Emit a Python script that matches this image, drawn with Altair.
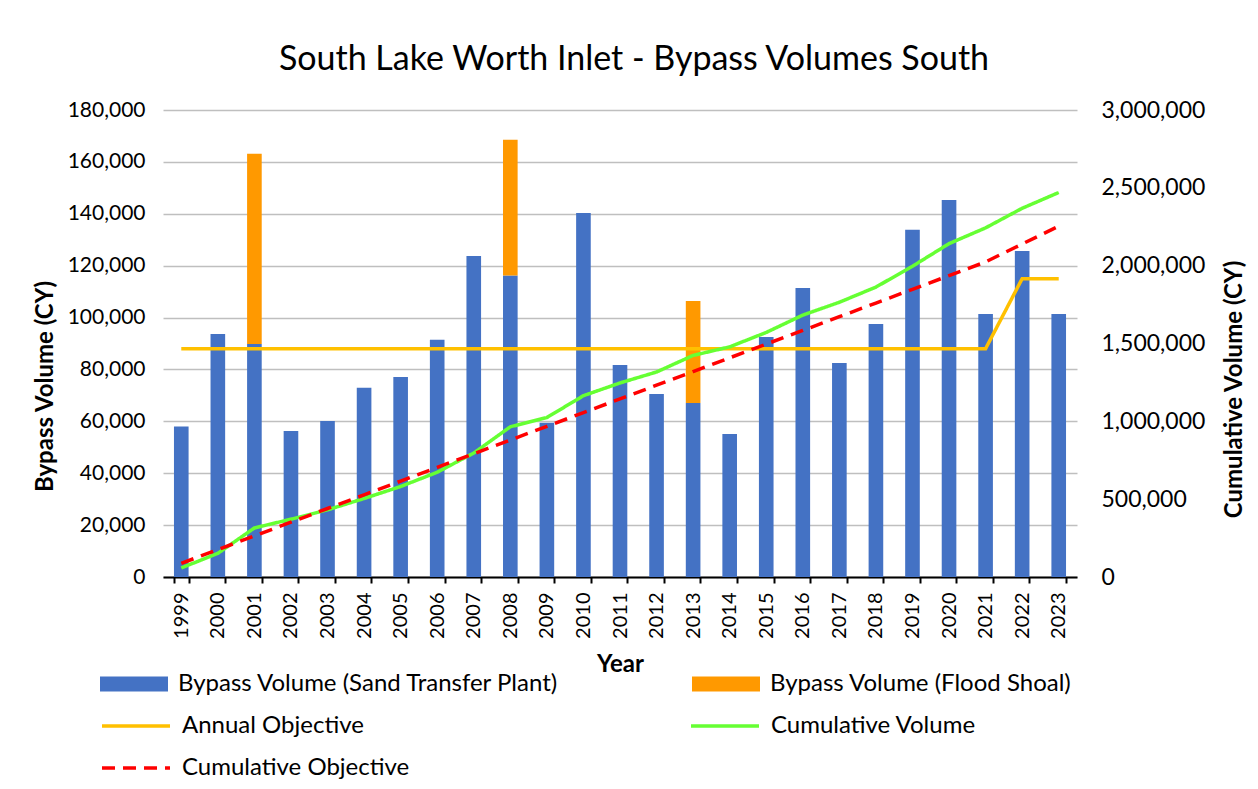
import altair as alt
import pandas as pd

FONT = "Lato"

years = ["1999", "2000", "2001", "2002", "2003", "2004", "2005", "2006", "2007",
         "2008", "2009", "2010", "2011", "2012", "2013", "2014", "2015", "2016",
         "2017", "2018", "2019", "2020", "2021", "2022", "2023"]

# Bypass Volume (Sand Transfer Plant), CY
stp = [58000, 93700, 89800, 56300, 60100, 72900, 77100, 91400, 123700, 116200,
       59500, 140300, 81700, 70500, 67100, 55100, 92500, 111400, 82500, 97500,
       133800, 145300, 101400, 125700, 101400]

# Bypass Volume (Flood Shoal), CY
flood = [0, 0, 73300, 0, 0, 0, 0, 0, 0, 52300,
         0, 0, 0, 0, 39300, 0, 0, 0, 0, 0,
         0, 0, 0, 0, 0]

# Annual Objective, CY
annual_obj = [88000, 88000, 88000, 88000, 88000, 88000, 88000, 88000, 88000, 88000,
              88000, 88000, 88000, 88000, 88000, 88000, 88000, 88000, 88000, 88000,
              88000, 88000, 88000, 115000, 115000]

# Cumulative Volume, CY
cum_vol = [58200, 151900, 315000, 371300, 431400, 504300, 581400, 672800, 796500,
           965000, 1024500, 1164800, 1246500, 1317000, 1423400, 1478500, 1571000,
           1682400, 1764900, 1862400, 1996200, 2141500, 2242900, 2368600, 2470000]

# Cumulative Objective, CY
cum_obj = [88000, 176000, 264000, 352000, 440000, 528000, 616000, 704000, 792000,
           880000, 968000, 1056000, 1144000, 1232000, 1320000, 1408000, 1496000,
           1584000, 1672000, 1760000, 1848000, 1936000, 2024000, 2139000, 2254000]

bar_names = ["Bypass Volume (Sand Transfer Plant)", "Bypass Volume (Flood Shoal)"]
bar_colors = ["#4472C4", "#FF9900"]
line_names = ["Annual Objective", "Cumulative Volume", "Cumulative Objective"]
line_colors = ["#FFC000", "#66FF33", "#FF0000"]
line_dashes = [[1, 0], [1, 0], [13, 8]]
# legend grid fills column by column: left column, then right column
line_legend_order = ["Annual Objective", "Cumulative Objective", "Cumulative Volume"]

left_ticks = [0, 20000, 40000, 60000, 80000, 100000, 120000, 140000, 160000, 180000]
right_ticks = [0, 500000, 1000000, 1500000, 2000000, 2500000, 3000000]

# ---- tables ----
bar_rows = []
for y, a, b in zip(years, stp, flood):
    bar_rows.append({"year": y, "component": bar_names[0], "value": a, "ord": 0})
    if b > 0:
        bar_rows.append({"year": y, "component": bar_names[1], "value": b, "ord": 1})
bar_df = pd.DataFrame(bar_rows)

annual_df = pd.DataFrame({"year": years, "series": line_names[0], "value": annual_obj})
cum_df = pd.concat([
    pd.DataFrame({"year": years, "series": line_names[1], "value": cum_vol}),
    pd.DataFrame({"year": years, "series": line_names[2], "value": cum_obj}),
])

TITLE_FONT = 24
LEG_FONT = 24
LINE_W = 3.5

x_enc = alt.X(
    "year:O",
    sort=years,
    scale=alt.Scale(paddingInner=0.6, paddingOuter=0.3),
    axis=alt.Axis(
        title="Year", titleFontSize=TITLE_FONT, titleFontWeight="bold", titlePadding=14,
        labelAngle=270, labelAlign="right", labelBaseline="middle",
        labelFontSize=20, labelPadding=9,
        tickBand="extent", ticks=True, tickColor="black", tickWidth=2, tickSize=6,
        domainColor="black", domainWidth=2, grid=False,
    ),
)

line_legend = alt.Legend(
    orient="none", legendX=-46, legendY=597, columns=2, columnPadding=274,
    rowPadding=11, symbolType="M-2,0L2,0", symbolSize=1156, symbolStrokeWidth=LINE_W,
    labelFontSize=LEG_FONT, labelOffset=27, labelLimit=600, title=None, padding=0,
    values=line_legend_order,
)

color_enc = alt.Color("series:N", scale=alt.Scale(domain=line_names, range=line_colors),
                      legend=line_legend)
dash_enc = alt.StrokeDash("series:N", scale=alt.Scale(domain=line_names, range=line_dashes),
                          legend=line_legend)

left_y_axis = alt.Axis(
    values=left_ticks, format=",d", title="Bypass Volume (CY)",
    titleFontSize=TITLE_FONT, titleFontWeight="bold", titlePadding=10, titleY=276,
    labelFontSize=21, labelPadding=18, domain=False, ticks=False,
    grid=True, gridColor="#BFBFBF", gridWidth=1.3,
)
left_scale = alt.Scale(domain=[0, 180000], nice=False)

bars = alt.Chart(bar_df).mark_bar().encode(
    x=x_enc,
    y=alt.Y("value:Q", stack="zero", scale=left_scale, axis=left_y_axis),
    fill=alt.Fill(
        "component:N",
        scale=alt.Scale(domain=bar_names, range=bar_colors),
        legend=alt.Legend(
            orient="none", legendX=-46, legendY=557, columns=2, columnPadding=132,
            rowPadding=11, symbolType="M-2,-0.44H2V0.44H-2Z", symbolSize=1156,
            symbolStrokeWidth=0, labelFontSize=LEG_FONT, labelOffset=27, labelLimit=600,
            title=None, padding=0,
        ),
    ),
    order=alt.Order("ord:Q"),
)

annual = alt.Chart(annual_df).mark_line(strokeWidth=LINE_W).encode(
    x=x_enc,
    y=alt.Y("value:Q", scale=left_scale, axis=left_y_axis),
    color=color_enc,
    strokeDash=dash_enc,
)

cum = alt.Chart(cum_df).mark_line(strokeWidth=LINE_W).encode(
    x=x_enc,
    y=alt.Y(
        "value:Q", scale=alt.Scale(domain=[0, 3000000], nice=False),
        axis=alt.Axis(
            orient="right", values=right_ticks, format=",d",
            title="Cumulative Volume (CY)", titleFontSize=TITLE_FONT, titleFontWeight="bold",
            titleAngle=270, titleBaseline="top", titlePadding=18, titleY=279,
            labelFontSize=23, labelPadding=24, domain=False, ticks=False, grid=False,
        ),
    ),
    color=color_enc,
    strokeDash=dash_enc,
)

left = alt.layer(bars, annual)

chart = alt.layer(left, cum).resolve_scale(y="independent").properties(
    width=914,
    height=467,
    padding={"left": 155, "top": 102, "right": 173, "bottom": 204},
    autosize=alt.AutoSizeParams(type="none"),
    title=alt.Title(
        "South Lake Worth Inlet - Bypass Volumes South", fontSize=34,
        fontWeight="normal", font=FONT, color="black", anchor="middle",
        offset=22, dx=14,
    ),
).configure(
    font=FONT,
    background="white",
).configure_view(
    stroke=None,
).configure_axis(
    labelColor="black", titleColor="black", labelFont=FONT, titleFont=FONT,
).configure_legend(
    labelColor="black", labelFont=FONT, symbolOpacity=1,
)

chart.save("out.html", embed_options={"renderer": "svg", "actions": False})
